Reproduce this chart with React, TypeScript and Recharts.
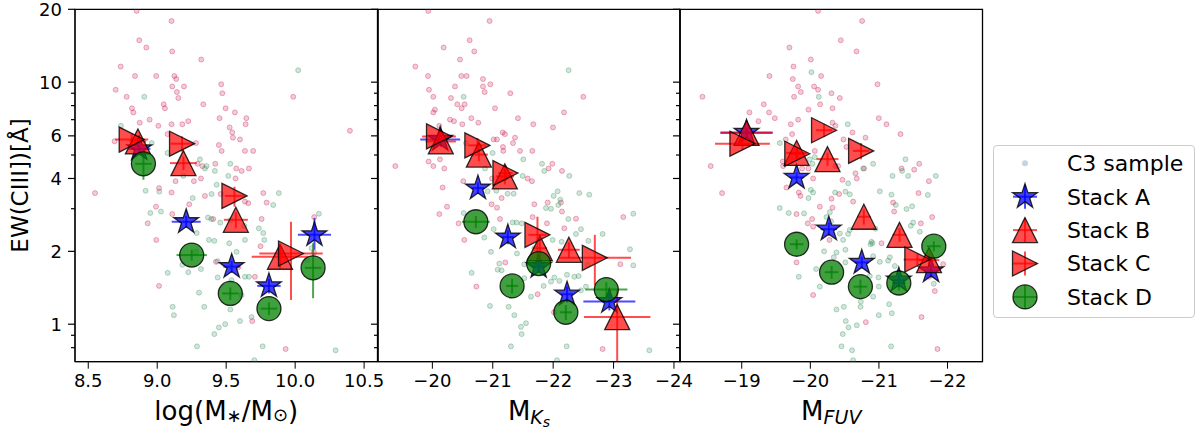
import React from 'react';
import { ScatterChart, Scatter, XAxis, YAxis, ErrorBar, ReferenceArea } from 'recharts';

// C3 sample, [x, EW(CIII])]
const massC3Pink: number[][] = [
  [8.851, 19.7], [9.104, 17.9], [8.87, 14.9], [8.921, 13.9], [9.109, 13.4], [9.319, 12.4], [8.735, 11.6], [8.839, 10.6],
  [8.993, 10.6], [9.124, 10.6], [9.138, 10.3], [9.109, 9.6], [9.194, 9.6], [9.464, 9.8], [8.699, 9.3], [8.778, 8.7],
  [9.143, 9.1], [9.153, 8.6], [9.472, 9.0], [9.986, 8.7], [9.047, 8.1], [9.056, 7.8], [9.334, 8.1], [8.817, 7.8],
  [8.827, 7.5], [9.496, 7.8], [9.563, 7.5], [9.646, 7.1], [9.452, 7.1], [8.945, 7.0], [8.873, 6.8], [9.008, 6.6],
  [9.104, 6.7], [9.182, 6.7], [9.225, 6.9], [9.641, 6.7], [9.525, 6.5], [9.544, 6.2], [9.549, 5.9], [9.6, 5.8],
  [10.397, 6.3], [8.691, 5.7], [9.075, 6.1], [9.281, 5.6], [9.447, 5.5], [9.467, 5.2], [9.636, 5.2], [9.696, 5.2],
  [9.421, 4.6], [9.573, 4.4], [9.612, 4.3], [9.665, 4.4], [9.293, 4.6], [9.327, 4.5], [9.317, 4.0], [9.266, 3.9],
  [9.133, 3.9], [9.568, 4.0], [8.549, 3.48], [9.013, 3.65], [9.104, 3.5], [9.346, 3.39], [9.46, 3.45], [9.636, 3.21],
  [9.66, 3.16], [9.769, 3.48], [9.793, 3.18], [8.991, 3.06], [8.931, 2.61], [9.109, 2.85], [9.232, 3.13], [9.406, 2.72],
  [8.993, 2.23], [9.013, 1.44], [9.757, 2.72], [9.749, 2.1], [9.708, 1.57], [9.931, 0.79], [10.138, 2.77], [10.136, 1.98],
  [9.588, 1.72], [9.689, 1.03], [9.426, 1.81],
];
const massC3Green: number[][] = [
  [8.737, 6.6], [8.906, 8.7], [10.022, 11.2], [8.96, 5.6], [9.075, 5.1], [9.31, 4.8], [9.358, 4.5], [9.346, 4.4],
  [9.418, 4.3], [9.53, 4.6], [9.515, 4.1], [9.189, 4.1], [8.916, 3.56], [9.015, 3.53], [9.257, 3.32], [9.394, 3.45],
  [9.431, 3.77], [9.882, 3.48], [9.841, 3.11], [8.95, 2.88], [9.027, 2.92], [9.368, 2.76], [9.392, 2.72], [9.457, 2.63],
  [9.532, 2.69], [9.631, 2.55], [9.737, 2.49], [9.769, 2.38], [9.776, 2.23], [9.636, 2.23], [9.375, 2.23], [9.414, 2.21],
  [9.522, 2.16], [9.575, 1.99], [9.286, 2.38], [9.281, 1.99], [9.317, 1.69], [9.182, 1.76], [9.076, 1.63], [9.225, 1.64],
  [9.438, 1.82], [9.535, 1.73], [9.636, 1.57], [9.665, 1.57], [9.438, 1.56], [9.539, 1.52], [9.612, 1.32], [9.303, 1.35],
  [9.341, 1.18], [9.112, 1.18], [9.121, 1.09], [9.53, 1.15], [9.6, 1.03], [9.493, 1.0], [9.447, 0.97], [9.414, 0.91],
  [9.684, 1.07], [9.764, 0.81], [9.288, 0.81], [9.704, 0.71], [10.293, 0.78], [10.172, 2.86], [10.119, 2.06], [10.085, 1.84],
];

const ksC3Pink: number[][] = [
  [-19.933, 19.7], [-20.948, 17.9], [-20.617, 14.9], [-20.187, 13.9], [-20.694, 13.4], [-20.457, 12.4], [-19.718, 11.6],
  [-19.927, 10.6], [-20.479, 10.6], [-20.567, 10.6], [-20.838, 10.3], [-20.959, 9.8], [-20.838, 9.6], [-20.374, 9.6],
  [-19.944, 9.3], [-20.866, 9.1], [-21.29, 9.0], [-20.016, 8.7], [-20.308, 8.6], [-22.499, 8.7], [-20.413, 8.1],
  [-20.534, 8.1], [-20.485, 7.8], [-21.037, 7.8], [-20.043, 7.7], [-20.016, 7.5], [-22.179, 7.5], [-20.292, 7.0],
  [-20.358, 6.9], [-20.645, 7.1], [-20.761, 6.8], [-21.417, 7.1], [-21.671, 6.7], [-20.496, 6.7], [-21.997, 6.5],
  [-20.115, 6.6], [-21.164, 6.2], [-21.202, 6.1], [-21.368, 5.9], [-21.015, 5.8], [-21.07, 5.8], [-21.335, 5.6],
  [-21.169, 5.4], [-21.175, 5.2], [-21.451, 5.2], [-21.655, 5.2], [-19.938, 4.7], [-20.126, 4.8], [-20.016, 4.5],
  [-20.198, 4.4], [-19.386, 4.5], [-21.925, 4.4], [-21.986, 4.6], [-22.146, 4.3], [-21.577, 4.0], [-21.649, 3.9],
  [-20.512, 3.9], [-20.987, 4.0], [-20.17, 3.67], [-20.242, 3.06], [-20.115, 2.85], [-20.435, 2.61], [-20.529, 2.23],
  [-20.981, 3.13], [-21.07, 3.03], [-21.147, 3.32], [-21.119, 2.72], [-21.208, 1.8], [-20.728, 1.43], [-21.66, 2.77],
  [-21.688, 3.13], [-21.898, 2.61], [-21.909, 3.18], [-22.129, 3.18], [-22.146, 2.92], [-22.378, 2.73], [-22.185, 2.49],
  [-21.743, 1.33], [-22.013, 1.12], [-22.819, 0.79], [-23.161, 2.77], [-23.112, 1.77],
];
const ksC3Green: number[][] = [
  [-22.256, 11.2], [-20.518, 8.7], [-20.556, 5.6], [-20.998, 5.1], [-21.506, 4.8], [-21.815, 4.6], [-21.853, 4.3],
  [-22.267, 4.1], [-21.495, 4.1], [-20.871, 4.4], [-20.915, 3.54], [-21.059, 3.56], [-21.246, 3.46], [-21.346, 3.46],
  [-22.074, 3.54], [-22.118, 3.27], [-22.085, 3.11], [-22.008, 3.39], [-22.433, 3.48], [-22.598, 3.43], [-21.881, 3.02],
  [-21.964, 3.0], [-22.251, 2.72], [-22.46, 2.47], [-22.378, 2.36], [-22.582, 2.21], [-22.819, 2.36], [-20.518, 2.88],
  [-21.015, 2.47], [-20.86, 2.28], [-21.191, 2.33], [-20.97, 1.99], [-21.401, 1.96], [-21.478, 2.61], [-21.329, 2.63],
  [-21.395, 2.63], [-22.14, 2.19], [-21.991, 2.23], [-21.688, 2.06], [-21.108, 1.78], [-21.147, 1.67], [-21.081, 1.68],
  [-20.65, 1.63], [-21.522, 1.77], [-21.588, 1.78], [-22.019, 1.56], [-21.964, 1.5], [-22.229, 1.6], [-22.35, 1.57],
  [-22.422, 1.58], [-22.102, 1.51], [-22.46, 1.38], [-22.543, 1.43], [-21.633, 1.3], [-21.842, 1.44], [-21.522, 1.55],
  [-20.954, 1.19], [-21.263, 1.18], [-21.357, 1.09], [-21.467, 0.975], [-21.55, 1.01], [-21.478, 0.91], [-21.301, 0.81],
  [-22.223, 0.81], [-22.063, 0.71], [-23.592, 0.78], [-23.272, 2.04], [-23.327, 1.75], [-23.327, 2.86], [-22.571, 1.76],
];

const fuvC3Pink: number[][] = [
  [-20.113, 19.7], [-20.755, 17.9], [-20.444, 14.9], [-19.695, 13.9], [-20.673, 13.4], [-20.007, 12.4], [-19.754, 11.6],
  [-19.404, 10.6], [-19.744, 10.3], [-20.157, 10.6], [-19.822, 9.6], [-20.055, 9.6], [-20.113, 9.3], [-19.861, 9.1],
  [-20.308, 9.0], [-20.979, 9.8], [-18.427, 8.7], [-19.763, 8.7], [-20.43, 8.6], [-20.143, 8.1], [-19.321, 8.1],
  [-19.399, 7.5], [-19.112, 7.5], [-19.973, 7.7], [-20.323, 7.8], [-19.482, 7.1], [-19.243, 6.9], [-19.822, 7.0],
  [-19.715, 6.7], [-20.323, 6.8], [-20.366, 6.6], [-20.998, 7.1], [-21.11, 6.7], [-21.314, 6.1], [-20.614, 6.2],
  [-20.804, 5.9], [-19.734, 6.1], [-19.642, 5.8], [-20.483, 5.8], [-20.527, 5.4], [-20.065, 5.2], [-18.548, 4.5],
  [-19.598, 4.7], [-19.603, 4.5], [-19.88, 4.4], [-19.973, 4.4], [-20.366, 4.5], [-20.405, 4.5], [-20.784, 4.4],
  [-20.658, 4.2], [-20.677, 4.0], [-20.041, 4.0], [-20.468, 3.95], [-21.329, 4.4], [-21.514, 4.35], [-21.587, 4.6],
  [-21.728, 3.9], [-18.713, 3.48], [-19.652, 3.67], [-19.832, 3.5], [-19.856, 3.39], [-20.308, 3.3], [-20.42, 3.45],
  [-20.323, 3.03], [-20.138, 3.06], [-19.798, 2.85], [-19.963, 2.61], [-20.041, 2.53], [-20.026, 2.72], [-20.624, 3.21],
  [-21.207, 3.18], [-21.222, 2.92], [-21.577, 3.48], [-21.611, 2.61], [-21.776, 2.77], [-21.037, 2.16], [-19.798, 1.8],
  [-20.041, 1.32], [-20.809, 1.02], [-21.621, 1.07], [-21.854, 0.79], [-21.815, 1.37], [-21.732, 1.57], [-21.937, 1.77],
  [-20.279, 2.23],
];
const fuvC3Green: number[][] = [
  [-20.016, 11.0], [-20.123, 8.7], [-20.546, 6.7], [-19.554, 5.6], [-19.992, 4.8], [-20.065, 4.9], [-20.031, 4.6],
  [-21.387, 4.8], [-21.339, 4.3], [-21.426, 4.1], [-21.198, 4.1], [-21.83, 4.1], [-20.916, 4.6], [-20.77, 4.4],
  [-20.551, 3.82], [-19.554, 3.02], [-19.686, 2.88], [-19.909, 2.87], [-20.007, 3.59], [-20.041, 3.5], [-19.973, 3.32],
  [-20.361, 3.5], [-20.512, 3.53], [-20.575, 3.44], [-20.284, 2.9], [-20.235, 2.77], [-20.303, 2.66], [-20.551, 2.36],
  [-20.43, 2.37], [-20.478, 2.23], [-20.575, 2.45], [-20.512, 2.03], [-20.381, 1.98], [-20.201, 2.0], [-20.342, 1.89],
  [-20.512, 1.8], [-20.891, 2.19], [-20.906, 2.16], [-20.877, 2.14], [-20.916, 1.91], [-21.013, 1.81], [-21.134, 1.83],
  [-21.159, 1.89], [-21.013, 3.54], [-21.183, 3.43], [-21.246, 3.11], [-21.402, 2.99], [-21.484, 3.07], [-21.499, 2.63],
  [-21.465, 2.55], [-21.596, 2.41], [-21.713, 3.42], [-20.95, 2.48], [-20.084, 1.69], [-20.138, 1.43], [-19.832, 1.57],
  [-20.381, 1.15], [-20.488, 1.18], [-20.517, 1.03], [-20.556, 0.97], [-20.677, 0.99], [-20.473, 0.91], [-20.731, 1.18],
  [-20.736, 1.24], [-20.867, 1.58], [-20.993, 1.56], [-20.998, 1.43], [-20.916, 1.3], [-21.149, 1.21], [-21.188, 1.11],
  [-20.998, 1.09], [-20.454, 0.81], [-20.609, 0.78], [-20.624, 0.71], [-21.178, 0.81], [-21.8, 1.47], [-21.232, 1.74],
];

// stacks, [x, EW, xerr, EW err low, EW err high]
const massStackA = [[8.87, 5.3, 0.08, 0.2, 0.2], [9.21, 2.65, 0.105, 0.15, 0.15], [9.54, 1.73, 0.06, 0.1, 0.1], [9.81, 1.44, 0.085, 0.1, 0.1], [10.14, 2.34, 0.12, 0.31, 0.41]];
const massStackB = [[8.86, 5.69, 0.06, 0.3, 0.3], [9.19, 4.63, 0.097, 0.3, 0.3], [9.57, 2.7, 0.087, 0.2, 0.2], [9.89, 1.9, 0.205, 0.2, 0.2]];
const massStackC = [[8.815, 5.79, 0.12, 0.3, 0.3], [9.18, 5.57, 0.08, 0.4, 0.4], [9.56, 3.39, 0.07, 0.33, 0.31], [9.97, 1.96, 0.23, 0.7, 0.69]];
const massStackD = [[8.9, 4.6, 0.06, 0.65, 0.49], [9.25, 1.93, 0.11, 0.1, 0.1], [9.53, 1.34, 0.06, 0.08, 0.08], [9.81, 1.16, 0.06, 0.07, 0.07], [10.13, 1.71, 0.06, 0.43, 0.45]];

const ksStackA = [[-20.13, 5.8, 0.33, 0.3, 0.3], [-20.755, 3.65, 0.1, 0.2, 0.2], [-21.25, 2.29, 0.1, 0.15, 0.15], [-21.76, 1.73, 0.1, 0.1, 0.1], [-22.23, 1.33, 0.1, 0.1, 0.1], [-22.93, 1.24, 0.43, 0.1, 0.1]];
const ksStackB = [[-20.14, 5.69, 0.25, 0.3, 0.3], [-20.77, 5.02, 0.15, 0.3, 0.3], [-21.2, 4.08, 0.15, 0.3, 0.3], [-21.78, 2.06, 0.12, 0.2, 0.2], [-22.26, 2.03, 0.18, 0.15, 0.15], [-23.06, 1.07, 0.55, 0.37, 0.31]];
const ksStackC = [[-20.11, 5.97, 0.28, 0.3, 0.3], [-20.745, 5.48, 0.15, 0.4, 0.4], [-21.21, 4.21, 0.12, 0.3, 0.3], [-21.74, 2.34, 0.15, 0.44, 0.44], [-22.69, 1.88, 0.6, 0.43, 0.46]];
const ksStackD = [[-20.72, 2.65, 0.23, 0.15, 0.15], [-21.32, 1.44, 0.1, 0.1, 0.1], [-21.76, 1.78, 0.1, 0.1, 0.1], [-22.21, 1.12, 0.1, 0.08, 0.08], [-22.88, 1.39, 0.35, 0.1, 0.1]];

const fuvStackA = [[-19.07, 6.2, 0.38, 0.3, 0.3], [-19.8, 4.04, 0.1, 0.2, 0.2], [-20.27, 2.47, 0.12, 0.15, 0.15], [-20.75, 1.8, 0.1, 0.1, 0.1], [-21.29, 1.52, 0.1, 0.1, 0.1], [-21.76, 1.66, 0.1, 0.1, 0.1]];
const fuvStackB = [[-19.07, 6.17, 0.38, 0.3, 0.3], [-19.8, 5.1, 0.15, 0.3, 0.3], [-20.25, 4.81, 0.16, 0.3, 0.3], [-20.78, 2.78, 0.1, 0.2, 0.2], [-21.3, 2.34, 0.1, 0.15, 0.15], [-21.73, 1.84, 0.15, 0.1, 0.1]];
const fuvStackC = [[-19.01, 5.57, 0.4, 0.3, 0.3], [-19.81, 5.06, 0.12, 0.3, 0.3], [-20.2, 6.33, 0.12, 0.4, 0.4], [-20.74, 5.2, 0.12, 0.4, 0.4], [-21.56, 1.85, 0.2, 0.1, 0.1]];
const fuvStackD = [[-19.8, 2.14, 0.1, 0.1, 0.1], [-20.31, 1.64, 0.1, 0.1, 0.1], [-20.73, 1.43, 0.1, 0.1, 0.1], [-21.29, 1.48, 0.1, 0.1, 0.1], [-21.8, 2.1, 0.1, 0.1, 0.1]];

const yMajorTicks = [1, 2, 4, 6, 10, 20];
const yMinorTicks = [0.8, 0.9, 3, 5, 7, 8, 9];
const massTicks = [8.5, 9, 9.5, 10, 10.5];
const ksTicks = [-20, -21, -22, -23, -24];
const fuvTicks = [-19, -20, -21, -22];
const legendLabels = ['C3 sample', 'Stack A', 'Stack B', 'Stack C', 'Stack D'];

const BLUE = '#0000ff';
const RED = '#ff0000';
const GREEN = '#008000';
const FONT = '"DejaVu Sans", sans-serif';

const toXY = (rows: number[][]) => rows.map(([x, y]) => ({ x, y }));
const toStack = (rows: number[][]) => rows.map(([x, y, ex, lo, hi]) => ({ x, y, ex, ey: [lo, hi] }));

const starPath = (cx: number, cy: number, R: number) => {
  const r = R * 0.382;
  let d = '';
  for (let i = 0; i < 10; i++) {
    const rad = i % 2 === 0 ? R : r;
    const a = -Math.PI / 2 + (i * Math.PI) / 5;
    d += (i === 0 ? 'M' : 'L') + (cx + rad * Math.cos(a)).toFixed(2) + ',' + (cy + rad * Math.sin(a)).toFixed(2);
  }
  return d + 'Z';
};

const edge = { stroke: '#000', strokeOpacity: 0.8, strokeWidth: 1.3 };

const StarMark = ({ cx, cy }: any) => <path d={starPath(cx, cy, 13)} fill={BLUE} fillOpacity={0.75} {...edge} />;
const TriUpMark = ({ cx, cy }: any) => (
  <path d={`M${cx},${cy - 12.5}L${cx - 12.5},${cy + 12.5}L${cx + 12.5},${cy + 12.5}Z`} fill={RED} fillOpacity={0.7} {...edge} />
);
const TriRightMark = ({ cx, cy }: any) => (
  <path d={`M${cx + 12.5},${cy}L${cx - 12.5},${cy - 12.5}L${cx - 12.5},${cy + 12.5}Z`} fill={RED} fillOpacity={0.7} {...edge} />
);
const CircleMark = ({ cx, cy }: any) => <circle cx={cx} cy={cy} r={12} fill={GREEN} fillOpacity={0.75} {...edge} />;
const dotShape = (color: string) => ({ cx, cy }: any) => (
  <circle cx={cx} cy={cy} r={2.5} fill={color} fillOpacity={0.22} stroke={color} strokeOpacity={0.32} strokeWidth={1} />
);

const yTick = (withLabels: boolean) => (p: any) => {
  const v = p.payload.value;
  const major = yMajorTicks.includes(v);
  const axisX = p.x + 13;
  return (
    <g>
      <line x1={axisX - (major ? 7 : 4)} x2={axisX} y1={p.y} y2={p.y} stroke="#000" strokeWidth={1.2} />
      {withLabels && major && (
        <text x={p.x} y={p.y} dy="0.36em" textAnchor="end" fontSize={18} fill="#000" fontFamily={FONT}>{v}</text>
      )}
    </g>
  );
};

const fmtMag = (v: number) => String(v).replace('-', '\u2212');
const fmtMass = (v: number) => v.toFixed(1);

const massTitle = (
  <>
    log(M<tspan dy={2} fontSize={18}>∗</tspan><tspan dy={-2}>/M</tspan><tspan dy={1} fontSize={18}>⊙</tspan><tspan dy={-1}>)</tspan>
  </>
);
const ksTitle = (
  <>
    M<tspan dy={4} fontSize={19} fontStyle="italic">K</tspan><tspan dy={3} fontSize={14} fontStyle="italic">s</tspan>
  </>
);
const fuvTitle = (
  <>
    M<tspan dy={4} fontSize={19} fontStyle="italic">FUV</tspan>
  </>
);

type PanelProps = {
  left: number; yW: number; plotW: number; domain: [number, number]; reversed: boolean;
  ticks: number[]; fmt: (v: number) => string; title: React.ReactNode; labels: boolean;
  pink: number[][]; green: number[][]; a: number[][]; b: number[][]; c: number[][]; d: number[][];
};

const Panel = (p: PanelProps) => {
  const stacks = [
    { rows: p.a, shape: StarMark, color: BLUE },
    { rows: p.b, shape: TriUpMark, color: RED },
    { rows: p.c, shape: TriRightMark, color: RED },
    { rows: p.d, shape: CircleMark, color: GREEN },
  ];
  return (
    <div style={{ position: 'absolute', left: p.left, top: 0 }}>
      <ScatterChart width={p.yW + p.plotW + 25} height={431} margin={{ top: 9.3, right: 25, bottom: 0, left: 0 }}>
        <XAxis type="number" dataKey="x" domain={p.domain} reversed={p.reversed} allowDataOverflow ticks={p.ticks}
          interval={0} tickFormatter={p.fmt} height={69.3} tickSize={7} tickMargin={6} stroke="#000"
          tick={{ fill: '#000', fontSize: 18, fontFamily: FONT }}
          label={(lp: any) => {
            const vb = lp.viewBox;
            return (
              <text x={vb.x + vb.width / 2} y={vb.y + 58.5} textAnchor="middle" fontSize={26} fill="#000" fontFamily={FONT}>
                {p.title}
              </text>
            );
          }} />
        <YAxis type="number" dataKey="y" scale="log" domain={[0.7, 20]} allowDataOverflow
          ticks={[...yMinorTicks, ...yMajorTicks].sort((m, n) => m - n)} interval={0} width={p.yW}
          tickSize={7} tickMargin={6} tickLine={false} stroke="#000" tick={yTick(p.labels)} />
        <ReferenceArea x1={p.domain[0]} x2={p.domain[1]} y1={0.7} y2={20} fill="none" stroke="#000" strokeWidth={1.3} />
        <Scatter data={toXY(p.pink)} shape={dotShape('#c8144a')} isAnimationActive={false} />
        <Scatter data={toXY(p.green)} shape={dotShape('#2e8b57')} isAnimationActive={false} />
        {stacks.map((s, i) => (
          <Scatter key={i} data={toStack(s.rows)} shape={s.shape} isAnimationActive={false}>
            <ErrorBar dataKey="ex" direction="x" width={0} stroke={s.color} strokeOpacity={0.7} strokeWidth={2} />
            <ErrorBar dataKey="ey" direction="y" width={0} stroke={s.color} strokeOpacity={0.7} strokeWidth={2} />
          </Scatter>
        ))}
      </ScatterChart>
    </div>
  );
};

const LegendIcon = ({ i, cx, cy }: { i: number; cx: number; cy: number }) => {
  if (i === 0) return <circle cx={cx} cy={cy} r={3} fill="#9fb5d0" fillOpacity={0.6} />;
  const color = i === 1 ? BLUE : i === 4 ? GREEN : RED;
  const marks = [null, StarMark, TriUpMark, TriRightMark, CircleMark];
  const Mark = marks[i] as any;
  return (
    <g>
      <line x1={cx - 12} x2={cx + 12} y1={cy} y2={cy} stroke={color} strokeOpacity={0.7} strokeWidth={2} />
      <line x1={cx} x2={cx} y1={cy - 12} y2={cy + 12} stroke={color} strokeOpacity={0.7} strokeWidth={2} />
      <Mark cx={cx} cy={cy} />
    </g>
  );
};

export default function App() {
  return (
    <div style={{ position: 'absolute', left: 0, top: 0, width: 1200, height: 431, background: '#fff', fontFamily: FONT }}>
      <Panel left={0} yW={75} plotW={302.5} domain={[8.404, 10.597]} reversed={false} ticks={massTicks} fmt={fmtMass}
        title={massTitle} labels pink={massC3Pink} green={massC3Green}
        a={massStackA} b={massStackB} c={massStackC} d={massStackD} />
      <Panel left={357.5} yW={20} plotW={302} domain={[-24.1, -19.1]} reversed ticks={ksTicks} fmt={fmtMag}
        title={ksTitle} labels={false} pink={ksC3Pink} green={ksC3Green}
        a={ksStackA} b={ksStackB} c={ksStackC} d={ksStackD} />
      <Panel left={659.5} yW={20} plotW={302.5} domain={[-22.51, -18.1]} reversed ticks={fuvTicks} fmt={fmtMag}
        title={fuvTitle} labels={false} pink={fuvC3Pink} green={fuvC3Green}
        a={fuvStackA} b={fuvStackB} c={fuvStackC} d={fuvStackD} />
      <svg style={{ position: 'absolute', left: 0, top: 0 }} width={60} height={431}>
        <text x={28} y={185.5} transform="rotate(-90 28 185.5)" textAnchor="middle" fontSize={23} fill="#000" fontFamily={FONT}>
          EW(CIII])[Å]
        </text>
      </svg>
      <div style={{ position: 'absolute', left: 993, top: 145, width: 202, height: 173, border: '1px solid #cccccc', borderRadius: 4, background: '#fff', boxSizing: 'border-box' }}>
        <svg width={202} height={173} style={{ position: 'absolute', left: -1, top: -1 }}>
          {legendLabels.map((name, i) => {
            const cy = 18.3 + i * 33.4;
            return (
              <g key={name}>
                <LegendIcon i={i} cx={32} cy={cy} />
                <text x={74} y={cy} dy="0.36em" fontSize={22} fill="#000" fontFamily={FONT}>{name}</text>
              </g>
            );
          })}
        </svg>
      </div>
    </div>
  );
}
